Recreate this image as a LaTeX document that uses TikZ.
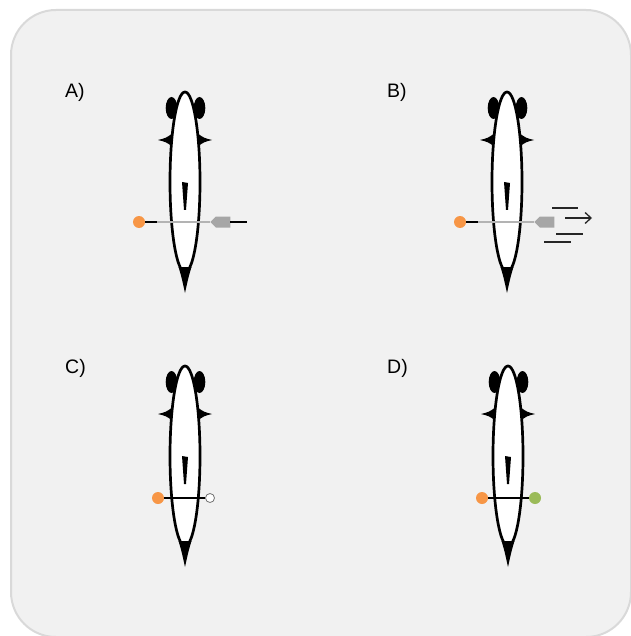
\documentclass[tikz,border=0pt]{standalone}
\usepackage{fontspec}
\setmainfont{Liberation Sans}
\usepackage{xcolor}
\usetikzlibrary{arrows.meta, positioning, shapes.symbols}

\definecolor{panelgray}{HTML}{F1F1F1}
\definecolor{edgegray}{HTML}{D9D9D9}
\definecolor{leadorange}{HTML}{F79646}
\definecolor{leadgreen}{HTML}{9BBB59}
\definecolor{plugfill}{HTML}{A6A6A6}
\definecolor{fibergray}{HTML}{B3B3B3}

\begin{document}
\begin{tikzpicture}[x=1pt, y=-1pt,
  panel/.style={draw=edgegray, line width=2, fill=panelgray, rounded corners=45},
  tag/.style={anchor=west, inner sep=0, font=\fontsize{19.5}{22}\selectfont},
  lead/.style={circle, fill=leadorange, inner sep=0, minimum size=12},
  ground/.style={circle, fill=leadgreen, inner sep=0, minimum size=12},
  ring/.style={circle, draw=black!55, fill=white, line width=0.8, inner sep=0, minimum size=9},
  plug/.style={signal, signal to=west, signal pointer angle=90, fill=plugfill, inner sep=0, minimum width=20, minimum height=11},
  wire/.style={line width=1.4, black},
  fiber/.style={line width=1.4, fibergray},
  streak/.style={line width=1.3, black!85},
  worm/.pic={
    % eyes and fins sit behind the body
    \fill (-13.5,-74) ellipse (5.8 and 11);
    \fill (14.5,-74) ellipse (5.8 and 11);
    \fill (-12,-49) .. controls (-19,-44) .. (-27,-42) .. controls (-19,-40) .. (-12,-35) -- cycle;
    \fill (12,-49) .. controls (19,-44) .. (27,-42) .. controls (19,-40) .. (12,-35) -- cycle;
    \draw[line width=2.7, fill=white] (0,0) ellipse (15 and 90);
    % pharynx and tail
    \fill (-3,0) -- (3,1) -- (1,28) -- (-1,28) -- cycle;
    \fill (-6.5,85) .. controls (-3.5,95) .. (0,111) .. controls (3.5,95) .. (6.5,85) -- cycle;
  }
]
\useasboundingbox (0,0) rectangle (630,636);
\draw[panel] (11,10) rectangle (631,637);

% A) electrode with fibre plugged in
\node[tag] (tagA) at (65,92) {A)};
\pic at (185,182) {worm};
\node[lead] (leadA) at (139,222) {};
\node[plug] (plugA) at (223,222) {};
\coordinate (wireA) at (157,222);
\coordinate (tailA) at (247,222);
\draw[wire] (leadA) -- (wireA);
\draw[fiber] (wireA) -- (plugA);
\draw[wire] (plugA) -- (tailA);

% B) fibre pulled away
\node[tag] (tagB) at (387,92) {B)};
\pic at (507,182) {worm};
\node[lead] (leadB) at (460,222) {};
\node[plug] (plugB) at (547,222) {};
\coordinate (wireB) at (478,222);
\draw[wire] (leadB) -- (wireB);
\draw[fiber] (wireB) -- (plugB);
\draw[streak] (552,208) -- (578,208);
\draw[streak, -{Straight Barb[length=6, width=11]}] (565,218) -- (592,218);
\draw[streak] (556,234) -- (583,234);
\draw[streak] (544,242) -- (571,242);

% C) open contact
\node[tag] (tagC) at (65,368) {C)};
\pic at (185,456) {worm};
\node[lead] (leadC) at (158,498) {};
\node[ring] (ringC) at (210,498) {};
\draw[wire] (leadC) -- (ringC);

% D) closed contact
\node[tag] (tagD) at (387,368) {D)};
\pic at (508,456) {worm};
\node[lead] (leadD) at (482,498) {};
\node[ground] (groundD) at (535,498) {};
\draw[wire] (leadD) -- (groundD);
\end{tikzpicture}
\end{document}
